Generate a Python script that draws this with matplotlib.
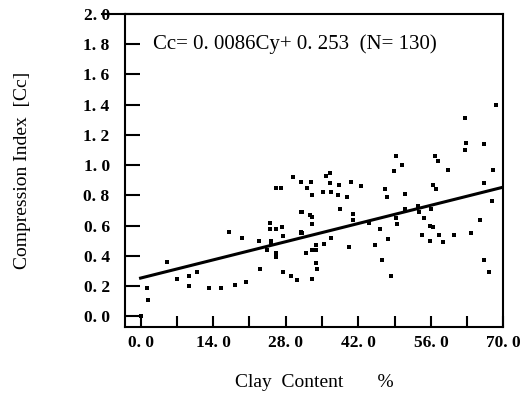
import numpy as np
import matplotlib
matplotlib.use('Agg')
from matplotlib import pyplot as plt
from matplotlib.ticker import MultipleLocator, FuncFormatter

# clay content (%) and compression index readings
clay = [0.0, 1.2, 1.5, 5.1, 7.1, 9.3, 9.3, 10.9, 13.2, 15.6, 17.1, 18.2, 19.6, 20.3,
        23.0, 22.9, 24.3, 25.2, 25.0, 26.1, 27.1, 25.2, 25.0, 26.2, 27.2, 27.4, 26.2,
        26.2, 27.4, 29.0, 30.2, 29.4, 30.9, 32.1, 31.2, 30.9, 32.0, 32.6,
        31.0, 32.1, 32.9, 33.1, 35.7, 36.5, 36.6, 35.2, 36.8, 38.3, 38.1, 40.5, 39.9,
        31.0, 33.1, 33.1, 38.5, 41.0, 41.0, 31.2, 32.0, 33.0, 33.9, 33.9, 35.3, 36.8,
        40.3, 33.9, 34.1, 33.1, 31.0,
        49.2, 50.5, 48.8, 47.1, 47.5, 51.1, 51.1, 49.2, 49.4, 46.1, 47.7, 46.6, 48.4,
        53.5, 53.7, 54.6, 56.1, 55.9, 56.4, 54.3, 55.9, 57.5, 58.3, 60.4, 56.5, 56.9,
        56.7, 57.3, 59.3, 62.6, 63.8, 65.4, 66.2, 67.9, 67.8, 66.3, 67.3,
        68.5, 62.6, 62.8, 66.2, 44.0, 45.2, 42.5]
cc = [0.00, 0.19, 0.11, 0.36, 0.25, 0.27, 0.20, 0.29, 0.19, 0.19, 0.56, 0.21, 0.52, 0.23,
      0.31, 0.50, 0.44, 0.50, 0.62, 0.85, 0.85, 0.48, 0.58, 0.58, 0.59, 0.53, 0.42,
      0.39, 0.29, 0.27, 0.24, 0.92, 0.89, 0.85, 0.69, 0.56, 0.42, 0.67,
      0.89, 0.85, 0.89, 0.80, 0.93, 0.95, 0.88, 0.82, 0.82, 0.87, 0.80, 0.89, 0.79,
      0.69, 0.66, 0.61, 0.71, 0.68, 0.64, 0.55, 0.42, 0.44, 0.44, 0.47, 0.48, 0.52,
      0.46, 0.35, 0.31, 0.25, 0.55,
      1.06, 1.00, 0.96, 0.84, 0.79, 0.81, 0.71, 0.65, 0.61, 0.58, 0.51, 0.37, 0.27,
      0.73, 0.69, 0.65, 0.71, 0.60, 0.59, 0.54, 0.50, 0.54, 0.49, 0.54, 0.87, 0.84,
      1.06, 1.03, 0.97, 1.10, 0.55, 0.64, 0.88, 0.97, 0.76, 0.37, 0.29,
      1.40, 1.31, 1.15, 1.14, 0.62, 0.47, 0.86]

slope, intercept = 0.0086, 0.253
fit_x = [0.0, 70.0]

plt.rcParams['font.family'] = ['Liberation Serif', 'DejaVu Serif']

fig = plt.figure(figsize=(5.22, 3.95), dpi=100)
ax = fig.add_axes([0.2395, 0.172, 0.725, 0.7925])

ax.scatter(clay, cc, s=6, marker='s', color='black', linewidths=0, zorder=3)
ax.plot(fit_x, [intercept + slope * v for v in fit_x], color='black', lw=2.2)

ax.set_xlim(-3, 70)
ax.set_ylim(-0.071, 2.0)

ax.xaxis.set_major_locator(MultipleLocator(14))
ax.xaxis.set_minor_locator(MultipleLocator(7))
ax.yaxis.set_major_locator(MultipleLocator(0.2))

fmt = FuncFormatter(lambda v, p: ('%.1f' % v).replace('.', '. '))
ax.xaxis.set_major_formatter(fmt)
ax.yaxis.set_major_formatter(fmt)

ax.tick_params(axis='y', direction='in', length=11, width=1.5, pad=11, labelsize=12.5)
ax.tick_params(axis='x', which='both', direction='in', length=8, width=1.5, pad=6,
               labelsize=12.5)
for lab in ax.get_xticklabels() + ax.get_yticklabels():
    lab.set_fontweight('bold')

for sp in ax.spines.values():
    sp.set_linewidth(1.5)

# top line runs past the corner up to the 2.0 label
ax.plot([-0.06, 0], [1, 1], transform=ax.transAxes, color='black', lw=1.5,
        clip_on=False)

ax.text(0.075, 0.905, 'Cc= 0. 0086Cy+ 0. 253  (N= 130)', transform=ax.transAxes,
        fontsize=15, va='center')

ax.set_ylabel('Compression Index  [Cc]', fontsize=14, labelpad=38)
ax.set_xlabel('Clay  Content       %', fontsize=14, labelpad=16)

fig.savefig('out.png', dpi=100)
